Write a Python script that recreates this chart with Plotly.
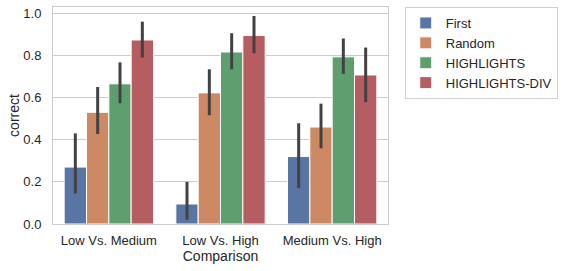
import plotly.graph_objects as go

categories = ["Low Vs. Medium", "Low Vs. High", "Medium Vs. High"]
series = ["First", "Random", "HIGHLIGHTS", "HIGHLIGHTS-DIV"]
colors = ["#5975a4", "#cc8963", "#5f9e6e", "#b55d60"]

first_mean = [0.27, 0.095, 0.32]
first_low = [0.145, 0.02, 0.17]
first_high = [0.43, 0.20, 0.478]

random_mean = [0.53, 0.622, 0.46]
random_low = [0.427, 0.516, 0.359]
random_high = [0.65, 0.734, 0.571]

hl_mean = [0.665, 0.816, 0.793]
hl_low = [0.573, 0.734, 0.712]
hl_high = [0.767, 0.905, 0.88]

div_mean = [0.873, 0.894, 0.707]
div_low = [0.79, 0.81, 0.578]
div_high = [0.96, 0.987, 0.837]

means = [first_mean, random_mean, hl_mean, div_mean]
lows = [first_low, random_low, hl_low, div_low]
highs = [first_high, random_high, hl_high, div_high]

fig = go.Figure()
for name, col, m, lo, hi in zip(series, colors, means, lows, highs):
    fig.add_trace(go.Bar(
        name=name, x=categories, y=m,
        marker=dict(color=col, line=dict(color="white", width=1)),
        error_y=dict(type="data", symmetric=False,
                     array=[h - v for h, v in zip(hi, m)],
                     arrayminus=[v - l for v, l in zip(m, lo)],
                     color="#424242", thickness=3, width=0),
    ))

font = "Liberation Sans, Arial, sans-serif"
fig.update_layout(
    width=565, height=271,
    margin=dict(l=53, r=177, t=7, b=47),
    plot_bgcolor="white", paper_bgcolor="white",
    barmode="group", bargap=0.2, bargroupgap=0,
    font=dict(family=font, size=13, color="#262626"),
    showlegend=True,
    legend=dict(x=1.05, y=1.0, xanchor="left", yanchor="top",
                bordercolor="#d0d0d0", borderwidth=1,
                font=dict(size=13, color="#262626"),
                tracegroupgap=0, itemwidth=30),
    xaxis=dict(title=dict(text="Comparison", font=dict(size=14), standoff=4),
               showgrid=False, showline=True, linecolor="#cccccc", linewidth=1,
               mirror=True, ticks="outside", ticklen=4, tickcolor="rgba(0,0,0,0)",
               range=[-0.5, 2.5]),
    yaxis=dict(title=dict(text="correct", font=dict(size=14), standoff=0),
               range=[0, 1.0295], tickvals=[0, 0.2, 0.4, 0.6, 0.8, 1.0],
               tickformat=".1f", showgrid=True, gridcolor="#cccccc", gridwidth=1,
               showline=True, linecolor="#cccccc", linewidth=1, mirror=True,
               zeroline=False, ticks="outside", ticklen=8, tickcolor="rgba(0,0,0,0)"),
)

fig.write_html("out.html", config={"displayModeBar": False},
               post_script="document.body.style.margin='0';")
